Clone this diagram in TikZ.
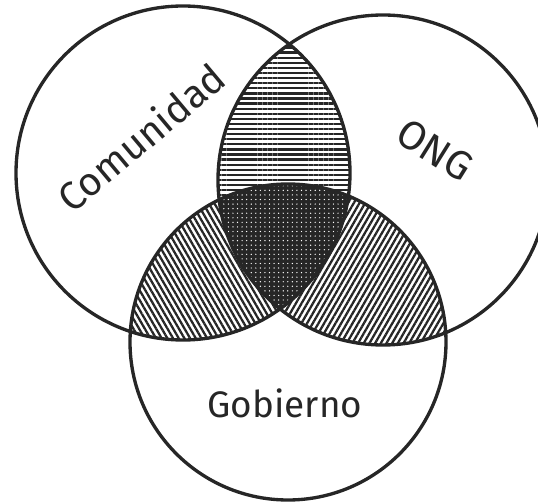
\documentclass[tikz,border=0pt]{standalone}
\usepackage{fontspec}
\setmainfont{Fira Sans}
\usepackage{xcolor}
\usetikzlibrary{patterns.meta}

\begin{document}
\begin{tikzpicture}[
    x=0.02cm, y=0.02cm,
    ring/.style={draw=black!85, line width=1.9pt},
    setname/.style={text=black!85, font=\fontsize{21}{25}\selectfont, inner sep=0pt},
    flathatch/.style={pattern={Lines[angle=0, distance=2.9pt, line width=1.3pt]}, pattern color=black!85},
    lefthatch/.style={pattern={Lines[angle=-60, distance=2.8pt, line width=1.3pt]}, pattern color=black!85},
    righthatch/.style={pattern={Lines[angle=60, distance=2.8pt, line width=1.3pt]}, pattern color=black!85},
    core/.style={fill=black!85}
]
\useasboundingbox (0,0) rectangle (538,501);
\clip (0,0) rectangle (538,501);

% Centres
\coordinate (com) at (183,328);
\coordinate (ong) at (383,321);
\coordinate (gob) at (288,159);
\def\rcom{167}
\def\rong{165}
\def\rgob{158}

% Overlaps
\begin{scope}
  \clip (com) circle[radius=\rcom];
  \fill[flathatch] (ong) circle[radius=\rong];
  \fill[lefthatch] (gob) circle[radius=\rgob];
\end{scope}
\begin{scope}
  \clip (ong) circle[radius=\rong];
  \fill[righthatch] (gob) circle[radius=\rgob];
\end{scope}
\begin{scope}
  \clip (com) circle[radius=\rcom];
  \clip (ong) circle[radius=\rong];
  \fill[core] (gob) circle[radius=\rgob];
  \fill[pattern={Dots[distance=2.6pt, radius=0.4pt]}, pattern color=white] (gob) circle[radius=\rgob];
\end{scope}

% Circles
\draw[ring] (com) circle[radius=\rcom];
\draw[ring] (ong) circle[radius=\rong];
\draw[ring] (gob) circle[radius=\rgob];

% Names
\node[setname, font=\fontsize{22.5}{26}\selectfont, rotate=40] (comname) at (141,364) {Comunidad};
\node[setname, font=\fontsize{23}{27}\selectfont, rotate=-32] (ongname) at (435,351) {ONG};
\node[setname] (gobname) at (285,98) {Gobierno};

\end{tikzpicture}
\end{document}
